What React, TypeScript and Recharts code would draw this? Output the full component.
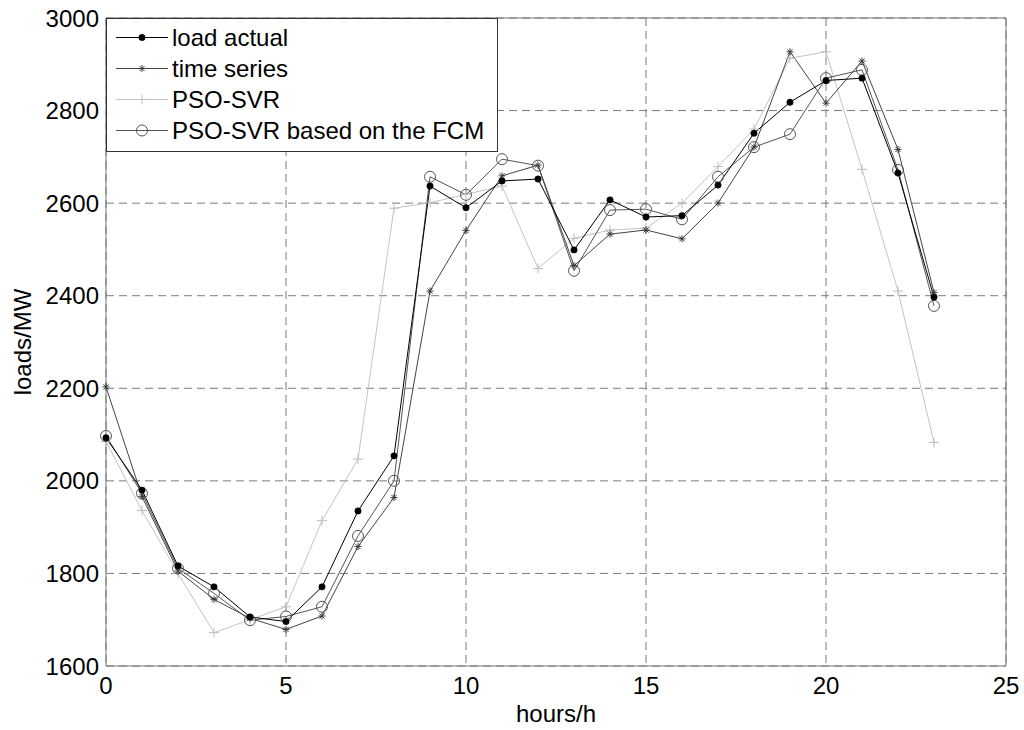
import React from 'react';
import { LineChart, Line, XAxis, YAxis, CartesianGrid, ReferenceLine, Legend, Label } from 'recharts';

const hours = [0, 1, 2, 3, 4, 5, 6, 7, 8, 9, 10, 11, 12, 13, 14, 15, 16, 17, 18, 19, 20, 21, 22, 23];
const loadActual = [2093, 1980, 1816, 1771, 1706, 1696, 1771, 1935, 2054, 2637, 2590, 2648, 2652, 2499, 2607, 2570, 2573, 2639, 2751, 2818, 2865, 2870, 2665, 2397];
const timeSeries = [2203, 1966, 1805, 1744, 1703, 1679, 1708, 1858, 1964, 2410, 2541, 2659, 2682, 2465, 2533, 2542, 2523, 2600, 2721, 2927, 2816, 2907, 2716, 2407];
const psoSvr = [2085, 1936, 1800, 1672, 1700, 1728, 1914, 2047, 2589, 2601, 2619, 2637, 2459, 2524, 2542, 2546, 2600, 2679, 2760, 2913, 2927, 2673, 2410, 2083];
const psoSvrFcm = [2097, 1973, 1811, 1757, 1699, 1707, 1728, 1881, 2000, 2657, 2618, 2695, 2681, 2454, 2585, 2587, 2565, 2657, 2721, 2749, 2870, 2888, 2672, 2378];
const xTicks = [0, 5, 10, 15, 20, 25];
const yTicks = [1600, 1800, 2000, 2200, 2400, 2600, 2800, 3000];
const seriesNames = ['load actual', 'time series', 'PSO-SVR', 'PSO-SVR based on the FCM'];

const data = hours.map((h, i) => ({
  hour: h,
  actual: loadActual[i],
  ts: timeSeries[i],
  pso: psoSvr[i],
  fcm: psoSvrFcm[i],
}));

const FONT = '"Liberation Sans", Arial, sans-serif';

const FilledDot = (p: any) => <circle cx={p.cx} cy={p.cy} r={3.2} fill="#000" stroke="#000" strokeWidth={0.5} />;
const Asterisk = (p: any) => {
  const r = 3.6;
  const d = r * 0.72;
  return (
    <g stroke="#333" strokeWidth={0.9}>
      <line x1={p.cx - r} y1={p.cy} x2={p.cx + r} y2={p.cy} />
      <line x1={p.cx} y1={p.cy - r} x2={p.cx} y2={p.cy + r} />
      <line x1={p.cx - d} y1={p.cy - d} x2={p.cx + d} y2={p.cy + d} />
      <line x1={p.cx - d} y1={p.cy + d} x2={p.cx + d} y2={p.cy - d} />
    </g>
  );
};
const Plus = (p: any) => {
  const r = 5;
  return (
    <g stroke="#bdbdbd" strokeWidth={1}>
      <line x1={p.cx - r} y1={p.cy} x2={p.cx + r} y2={p.cy} />
      <line x1={p.cx} y1={p.cy - r} x2={p.cx} y2={p.cy + r} />
    </g>
  );
};
const OpenCircle = (p: any) => <circle cx={p.cx} cy={p.cy} r={5.5} fill="none" stroke="#555" strokeWidth={1} />;

const mk = (C: any) => (props: any) => {
  const { key, ...rest } = props;
  return <C key={`d-${props.index}`} {...rest} />;
};

const markers = [FilledDot, Asterisk, Plus, OpenCircle];
const lineColors = ['#000', '#444', '#c4c4c4', '#555'];

const renderLegend = () => (
  <div
    style={{
      boxSizing: 'border-box',
      width: 392,
      height: 134,
      border: '1px solid #333',
      background: '#fff',
      paddingTop: 3,
      fontFamily: FONT,
    }}
  >
    {seriesNames.map((name, i) => {
      const M = markers[i];
      return (
        <div key={name} style={{ display: 'flex', alignItems: 'center', height: 31 }}>
          <svg width={65} height={31} style={{ flex: 'none' }}>
            <line x1={9} y1={15.5} x2={61} y2={15.5} stroke={lineColors[i]} strokeWidth={1} />
            <M cx={35} cy={15.5} />
          </svg>
          <span style={{ fontSize: 24, color: '#000', lineHeight: '31px', whiteSpace: 'nowrap' }}>{name}</span>
        </div>
      );
    })}
  </div>
);

const YLabel = (props: any) => {
  const vb = props.viewBox || { x: 0, y: 0, width: 0, height: 0 };
  const cx = vb.x + 22;
  const cy = vb.y + vb.height / 2;
  return (
    <text
      x={0}
      y={0}
      transform={`translate(${cx},${cy}) rotate(-90)`}
      textAnchor="middle"
      dominantBaseline="central"
      fontSize={24}
      fontFamily={FONT}
      fill="#000"
    >
      loads/MW
    </text>
  );
};

export default function App() {
  return (
    <div style={{ position: 'absolute', left: 0, top: 0, width: 1024, height: 730, background: '#fff' }}>
      <LineChart width={1024} height={730} data={data} margin={{ top: 18, right: 18, bottom: 0, left: 0 }}>
        <CartesianGrid stroke="#7a7a7a" strokeDasharray="8 5" />
        <XAxis
          dataKey="hour"
          type="number"
          domain={[0, 25]}
          ticks={xTicks}
          height={64}
          axisLine={{ stroke: '#777' }}
          tickLine={false}
          tickSize={6}
          tickMargin={5}
          tick={{ fontSize: 24, fill: '#000', fontFamily: FONT }}
        >
          <Label value="hours/h" position="insideBottom" offset={8} style={{ fontSize: 24, fill: '#000', fontFamily: FONT }} />
        </XAxis>
        <YAxis
          type="number"
          domain={[1600, 3000]}
          ticks={yTicks}
          width={106}
          axisLine={{ stroke: '#777' }}
          tickLine={false}
          tickSize={4}
          tickMargin={3}
          tick={{ fontSize: 24, fill: '#000', fontFamily: FONT }}
          allowDataOverflow
        >
          <Label content={<YLabel />} />
        </YAxis>
        <ReferenceLine x={25} stroke="#777" strokeDasharray="" />
        <ReferenceLine y={3000} stroke="#777" strokeDasharray="" />
        <Line type="linear" dataKey="pso" name={seriesNames[2]} stroke={lineColors[2]} strokeWidth={1} dot={mk(Plus)} isAnimationActive={false} />
        <Line type="linear" dataKey="fcm" name={seriesNames[3]} stroke={lineColors[3]} strokeWidth={1} dot={mk(OpenCircle)} isAnimationActive={false} />
        <Line type="linear" dataKey="ts" name={seriesNames[1]} stroke={lineColors[1]} strokeWidth={1} dot={mk(Asterisk)} isAnimationActive={false} />
        <Line type="linear" dataKey="actual" name={seriesNames[0]} stroke={lineColors[0]} strokeWidth={1} dot={mk(FilledDot)} isAnimationActive={false} />
        <Legend
          layout="vertical"
          align="center"
          verticalAlign="middle"
          content={renderLegend}
          wrapperStyle={{ position: 'absolute', left: 106, top: 18, width: 392, height: 134, margin: 0 }}
        />
      </LineChart>
    </div>
  );
}
